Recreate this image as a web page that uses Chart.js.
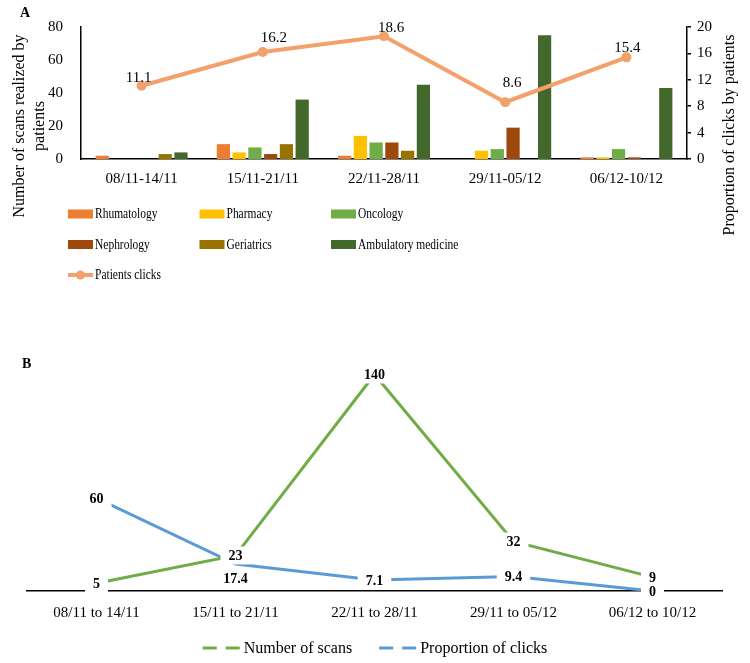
<!DOCTYPE html>
<html>
<head>
<meta charset="utf-8">
<title>Scans and clicks per week</title>
<script src="https://cdn.jsdelivr.net/npm/chart.js@4.4.1/dist/chart.umd.min.js"></script>
<style>
  html, body { margin: 0; padding: 0; background: #fff; }
  #page { position: relative; width: 750px; height: 663px; overflow: hidden; }
  #chartA { position: absolute; left: 0; top: 0; }
  #chartB { position: absolute; left: 0; top: 300px; }
</style>
</head>
<body>
<div id="page">
  <canvas id="chartA" width="750" height="300"></canvas>
  <canvas id="chartB" width="750" height="363"></canvas>
</div>
<script>
// ---------------- Data (panel A) ----------------
const weeksA = ['08/11-14/11', '15/11-21/11', '22/11-28/11', '29/11-05/12', '06/12-10/12'];
const rhumatology = [2, 9, 2, 0, 1];
const pharmacy    = [0, 4, 14, 5, 1];
const oncology    = [0, 7, 10, 6, 6];
const nephrology  = [0, 3, 10, 19, 1];
const geriatrics  = [3, 9, 5, 0, 0];
const ambulatory  = [4, 36, 45, 75, 43];
const patientsClicks = [11.1, 16.2, 18.6, 8.6, 15.4];
const scanTicks  = [0, 20, 40, 60, 80];
const clickTicks = [0, 4, 8, 12, 16, 20];
const leftTitle  = ['Number of scans realized by', 'patients'];
const rightTitle = 'Proportion of clicks by patients';

// ---------------- Data (panel B) ----------------
const weeksB = ['08/11 to 14/11', '15/11 to 21/11', '22/11 to 28/11', '29/11 to 05/12', '06/12 to 10/12'];
const numberOfScans      = [5, 23, 140, 32, 9];
const proportionOfClicks = [60, 17.4, 7.1, 9.4, 0];

const SERIF = "'Liberation Serif', 'Times New Roman', serif";
Chart.defaults.font.family = SERIF;
Chart.defaults.color = '#000';

// ---------------- Panel A helpers ----------------
const panelA = {
  id: 'panelA',
  afterDraw(chart) {
    const ctx = chart.ctx;
    ctx.save();
    ctx.fillStyle = '#000';

    // panel letter
    ctx.font = 'bold 14px ' + SERIF;
    ctx.textAlign = 'left';
    ctx.textBaseline = 'alphabetic';
    ctx.fillText('A', 20, 17);

    // axis titles (rotated)
    ctx.font = '16px ' + SERIF;
    ctx.textAlign = 'center';
    ctx.save();
    ctx.translate(24, 126);
    ctx.rotate(-Math.PI / 2);
    ctx.fillText(leftTitle[0], 0, 0);
    ctx.fillText(leftTitle[1], 0, 19.5);
    ctx.restore();
    ctx.save();
    ctx.translate(734, 135);
    ctx.rotate(-Math.PI / 2);
    ctx.fillText(rightTitle, 0, 0);
    ctx.restore();

    // values above the clicks line
    const lineIdx = chart.data.datasets.findIndex(d => d.type === 'line');
    const lineDs = chart.data.datasets[lineIdx];
    ctx.font = '15px ' + SERIF;
    ctx.textBaseline = 'alphabetic';
    chart.getDatasetMeta(lineIdx).data.forEach((pt, i) => {
      const off = lineDs.labelOffsets[i];
      ctx.fillText(lineDs.data[i].toFixed(1), pt.x + off[0], pt.y + off[1]);
    });

    // legend, 3 columns (text is a bit condensed in the original)
    ctx.font = '14px ' + SERIF;
    ctx.textAlign = 'left';
    ctx.textBaseline = 'middle';
    chart.data.datasets.forEach((ds, i) => {
      const x = 68 + (i % 3) * 131.5;
      const y = 214 + Math.floor(i / 3) * 30.5;
      if (ds.type === 'line') {
        ctx.strokeStyle = ds.borderColor;
        ctx.lineWidth = 4;
        ctx.beginPath();
        ctx.moveTo(x, y);
        ctx.lineTo(x + 25, y);
        ctx.stroke();
        ctx.fillStyle = ds.borderColor;
        ctx.beginPath();
        ctx.arc(x + 12.5, y, 4.5, 0, Math.PI * 2);
        ctx.fill();
      } else {
        ctx.fillStyle = ds.backgroundColor;
        ctx.fillRect(x, y - 4.5, 25, 9);
      }
      ctx.fillStyle = '#000';
      ctx.save();
      ctx.translate(x + 27, y + 0.5);
      ctx.scale(0.82, 1);
      ctx.fillText(ds.label, 0, 0);
      ctx.restore();
    });
    ctx.restore();
  }
};

new Chart(document.getElementById('chartA'), {
  type: 'bar',
  data: {
    labels: weeksA,
    datasets: [
      { label: 'Rhumatology', data: rhumatology, backgroundColor: '#ED7D31', order: 1 },
      { label: 'Pharmacy', data: pharmacy, backgroundColor: '#FFC000', order: 1 },
      { label: 'Oncology', data: oncology, backgroundColor: '#70AD47', order: 1 },
      { label: 'Nephrology', data: nephrology, backgroundColor: '#9E480E', order: 1 },
      { label: 'Geriatrics', data: geriatrics, backgroundColor: '#997300', order: 1 },
      { label: 'Ambulatory medicine', data: ambulatory, backgroundColor: '#43682B', order: 1 },
      {
        type: 'line', label: 'Patients clicks', data: patientsClicks, yAxisID: 'y1', order: 0,
        borderColor: '#F4A06A', backgroundColor: '#F4A06A', borderWidth: 4,
        pointRadius: 5, pointBorderWidth: 0, pointBackgroundColor: '#F4A06A', tension: 0,
        labelOffsets: [[-3, -4], [11, -10], [7, -4], [7, -15], [1, -5]]
      }
    ]
  },
  options: {
    responsive: false,
    animation: false,
    layout: { padding: { left: 30, right: 32, top: 27, bottom: 101 } },
    datasets: { bar: { categoryPercentage: 0.78, barPercentage: 0.84 } },
    plugins: { legend: { display: false }, tooltip: { enabled: false } },
    scales: {
      x: {
        grid: { display: false, drawTicks: false },
        border: { color: '#000', width: 1.5 },
        ticks: { font: { size: 15 }, padding: 11 }
      },
      y: {
        position: 'left', min: 0, max: 80,
        afterBuildTicks: s => { s.ticks = scanTicks.map(v => ({ value: v })); },
        grid: { display: false, drawTicks: false },
        border: { color: '#000', width: 1.5 },
        ticks: { font: { size: 15 }, padding: 18 }
      },
      y1: {
        position: 'right', min: 0, max: 20,
        afterBuildTicks: s => { s.ticks = clickTicks.map(v => ({ value: v })); },
        grid: { drawOnChartArea: false, drawTicks: true, tickLength: 4, color: '#000', lineWidth: 1.5 },
        border: { color: '#000', width: 1.5 },
        ticks: { font: { size: 15 }, padding: 6 }
      }
    }
  },
  plugins: [panelA]
});

// ---------------- Panel B ----------------
const panelB = {
  id: 'panelB',
  afterDraw(chart) {
    const ctx = chart.ctx;
    ctx.save();
    ctx.fillStyle = '#000';
    ctx.font = 'bold 14px ' + SERIF;
    ctx.textAlign = 'left';
    ctx.textBaseline = 'alphabetic';
    ctx.fillText('B', 22, 68);

    // value labels on a white box (they cut the lines like in Excel)
    ctx.textAlign = 'center';
    ctx.textBaseline = 'middle';
    chart.data.datasets.forEach((ds, i) => {
      chart.getDatasetMeta(i).data.forEach((pt, j) => {
        const txt = String(ds.data[j]);
        const y = pt.y + (ds.labelShift ? ds.labelShift[j] : 0);
        const w = ctx.measureText(txt).width + 16;
        ctx.fillStyle = '#fff';
        ctx.fillRect(pt.x - w / 2, y - 9, w, 18);
        ctx.fillStyle = '#000';
        ctx.fillText(txt, pt.x, y + 1);
      });
    });

    // legend: dashed line + label, centred under the chart
    ctx.font = '16px ' + SERIF;
    ctx.textAlign = 'left';
    const symW = 38, gapTxt = 3, gapItem = 27;
    const widths = chart.data.datasets.map(ds => symW + gapTxt + ctx.measureText(ds.label).width);
    const total = widths.reduce((a, b) => a + b, 0) + gapItem * (widths.length - 1);
    let x = (chart.width - total) / 2;
    const y = 348;
    chart.data.datasets.forEach((ds, i) => {
      ctx.strokeStyle = ds.borderColor;
      ctx.lineWidth = 3;
      ctx.setLineDash([14, 9]);
      ctx.beginPath();
      ctx.moveTo(x, y);
      ctx.lineTo(x + symW, y);
      ctx.stroke();
      ctx.setLineDash([]);
      ctx.fillStyle = '#000';
      ctx.fillText(ds.label, x + symW + gapTxt, y + 1);
      x += widths[i] + gapItem;
    });
    ctx.restore();
  }
};

new Chart(document.getElementById('chartB'), {
  type: 'line',
  data: {
    labels: weeksB,
    datasets: [
      { label: 'Number of scans', data: numberOfScans, borderColor: '#70AD47', backgroundColor: '#70AD47',
        borderWidth: 3, pointRadius: 0, tension: 0 },
      { label: 'Proportion of clicks', data: proportionOfClicks, borderColor: '#5B9BD5', backgroundColor: '#5B9BD5',
        borderWidth: 3, pointRadius: 0, tension: 0, labelShift: [0, 14, 0, 0, 0] }
    ]
  },
  options: {
    responsive: false,
    animation: false,
    layout: { padding: { left: 27, right: 28, top: 59, bottom: 28 } },
    plugins: { tooltip: { enabled: false }, legend: { display: false } },
    scales: {
      x: {
        offset: true,
        grid: { display: false, drawTicks: false },
        border: { color: '#000', width: 1.5 },
        ticks: { font: { size: 15 }, padding: 13 }
      },
      y: { display: false, min: 0, max: 150 }
    }
  },
  plugins: [panelB]
});
</script>
</body>
</html>
